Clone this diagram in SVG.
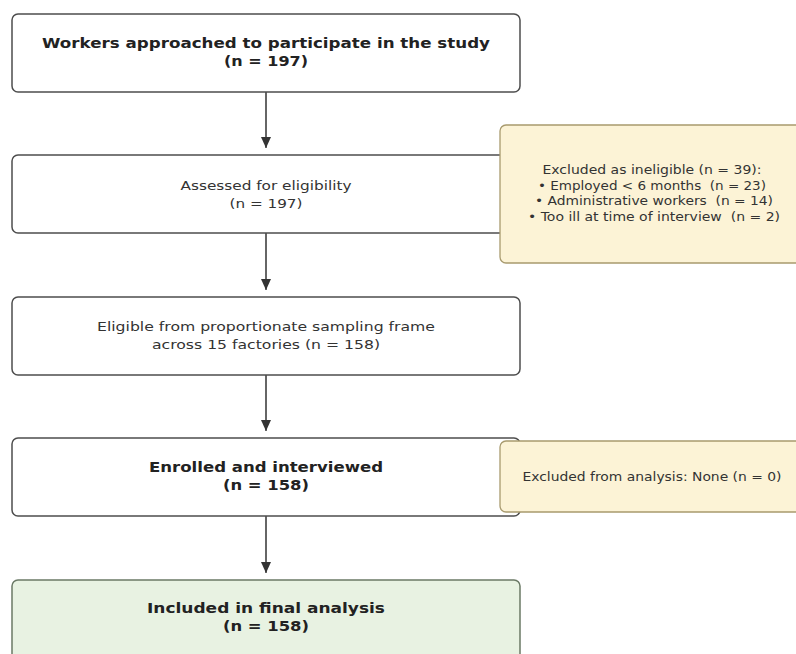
<svg xmlns="http://www.w3.org/2000/svg" width="796" height="654" viewBox="0 0 796 654">
<defs>
<style>
.main{fill:#ffffff;stroke:#4d4d4d;stroke-width:1.5}
.side{fill:#fcf3d6;stroke:#a89a6e;stroke-width:1.3}
.final{fill:#e8f2e2;stroke:#6b7a66;stroke-width:1.5}
.t{font-family:"DejaVu Sans",sans-serif;fill:#222;text-anchor:middle}
.b{font-size:14px;font-weight:bold}
.n{font-size:13px;fill:#333}
.s{font-size:12px;fill:#333}
.c{stroke:#333;stroke-width:1.5;fill:none}
</style>
<marker id="ah" markerWidth="10" markerHeight="12" refX="11" refY="5" orient="auto" markerUnits="userSpaceOnUse">
<path d="M0,0 L11,5 L0,10 Z" fill="#333"/>
</marker>
</defs>
<rect width="796" height="654" fill="#ffffff"/>
<g id="connectors">
<line class="c" x1="266" y1="92" x2="266" y2="148" marker-end="url(#ah)"/>
<line class="c" x1="266" y1="233" x2="266" y2="290" marker-end="url(#ah)"/>
<line class="c" x1="266" y1="375" x2="266" y2="431" marker-end="url(#ah)"/>
<line class="c" x1="266" y1="516" x2="266" y2="573" marker-end="url(#ah)"/>
</g>
<g id="n1">
<rect class="main" x="12" y="14" width="508" height="78" rx="6"/>
<text class="t b" x="266" y="48" textLength="448" lengthAdjust="spacingAndGlyphs">Workers approached to participate in the study</text>
<text class="t b" x="266" y="66" textLength="84" lengthAdjust="spacingAndGlyphs">(n = 197)</text>
</g>
<g id="n2">
<rect class="main" x="12" y="155" width="508" height="78" rx="6"/>
<text class="t n" x="266" y="190" textLength="171" lengthAdjust="spacingAndGlyphs">Assessed for eligibility</text>
<text class="t n" x="266" y="208" textLength="73" lengthAdjust="spacingAndGlyphs">(n = 197)</text>
</g>
<g id="n3">
<rect class="main" x="12" y="297" width="508" height="78" rx="6"/>
<text class="t n" x="266" y="331" textLength="338" lengthAdjust="spacingAndGlyphs">Eligible from proportionate sampling frame</text>
<text class="t n" x="266" y="349" textLength="228" lengthAdjust="spacingAndGlyphs">across 15 factories (n = 158)</text>
</g>
<g id="n4">
<rect class="main" x="12" y="438" width="508" height="78" rx="6"/>
<text class="t b" x="266" y="472" textLength="234" lengthAdjust="spacingAndGlyphs">Enrolled and interviewed</text>
<text class="t b" x="266" y="490" textLength="86" lengthAdjust="spacingAndGlyphs">(n = 158)</text>
</g>
<g id="n5">
<rect class="final" x="12" y="580" width="508" height="80" rx="6"/>
<text class="t b" x="266" y="613" textLength="238" lengthAdjust="spacingAndGlyphs">Included in final analysis</text>
<text class="t b" x="266" y="631" textLength="86" lengthAdjust="spacingAndGlyphs">(n = 158)</text>
</g>
<g id="ex1">
<rect class="side" x="500" y="125" width="302" height="138" rx="6"/>
<text class="t s" x="652" y="174" textLength="219" lengthAdjust="spacingAndGlyphs">Excluded as ineligible (n = 39):</text>
<text class="t s" x="652" y="190" textLength="228" lengthAdjust="spacingAndGlyphs" xml:space="preserve">• Employed &lt; 6 months  (n = 23)</text>
<text class="t s" x="654" y="205" textLength="238" lengthAdjust="spacingAndGlyphs" xml:space="preserve">• Administrative workers  (n = 14)</text>
<text class="t s" x="654" y="221" textLength="252" lengthAdjust="spacingAndGlyphs" xml:space="preserve">• Too ill at time of interview  (n = 2)</text>
</g>
<g id="ex2">
<rect class="side" x="500" y="441" width="302" height="71" rx="6"/>
<text class="t s" x="652" y="481" textLength="259" lengthAdjust="spacingAndGlyphs">Excluded from analysis: None (n = 0)</text>
</g>
</svg>
